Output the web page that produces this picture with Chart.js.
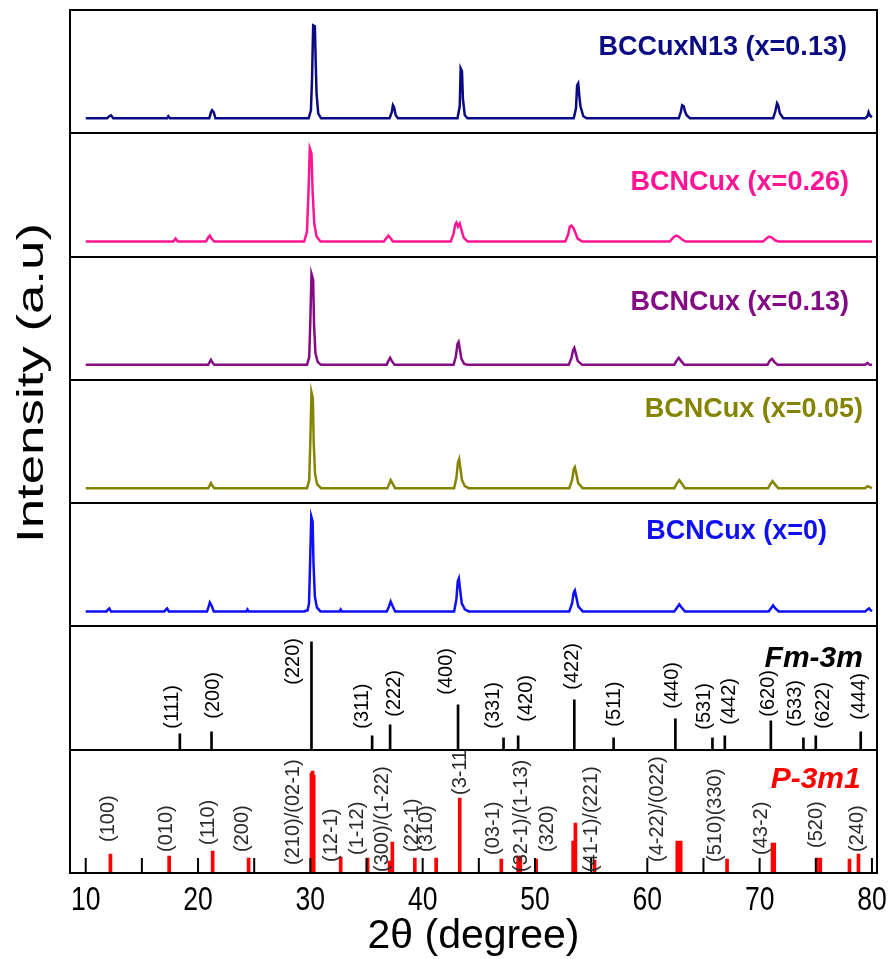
<!DOCTYPE html>
<html>
<head>
<meta charset="utf-8">
<script src="https://cdn.jsdelivr.net/npm/chart.js@4.4.0/dist/chart.umd.min.js"></script>
<style>
  html, body { margin: 0; padding: 0; background: #fff; }
  #wrap { position: relative; width: 893px; height: 959px; }
</style>
</head>
<body>
<div id="wrap"><canvas id="xrdChart" width="893" height="959"></canvas></div>
<script>
// ---- axis ----
const xTicks = [10, 20, 30, 40, 50, 60, 70, 80];
const minorTicks = [10, 15, 20, 25, 30, 35, 40, 45, 50, 55, 60, 65, 70, 75, 80];

// ---- measured patterns: [2theta, intensity above baseline] ----
const scanN13 = [
  [10,0],[11.9,0],[12.1,2],[12.25,3],[12.45,0],
  [17.25,0],[17.35,2],[17.5,0],
  [21.0,0],[21.15,6],[21.25,8],[21.4,6],[21.55,0],
  [29.85,0],[30.05,8],[30.15,40],[30.25,93],[30.4,92],[30.48,55],[30.55,25],[30.7,5],[30.95,0],
  [37.05,0],[37.25,6],[37.35,13],[37.45,11],[37.6,3],[37.8,0],
  [43.1,0],[43.3,12],[43.38,50],[43.5,47],[43.58,20],[43.75,3],[44.0,0],
  [53.45,0],[53.65,10],[53.75,33],[53.85,35],[53.95,22],[54.05,12],[54.3,2],[54.6,0],
  [62.8,0],[63.0,7],[63.1,13],[63.25,12],[63.35,7],[63.5,3],[63.8,0],
  [71.2,0],[71.4,7],[71.55,15],[71.65,13],[71.8,5],[72.1,0],
  [79.4,0],[79.6,2],[79.7,6],[79.8,3],[80,1]
];
const scanX026 = [
  [10,0],[17.8,0],[18.0,3],[18.2,0],
  [20.7,0],[20.9,4],[21.05,6],[21.2,3],[21.45,0],
  [29.45,0],[29.7,10],[29.85,55],[29.95,93],[30.1,88],[30.2,50],[30.35,18],[30.55,5],[30.9,0],
  [36.55,0],[36.8,4],[36.95,6],[37.1,4],[37.35,0],
  [42.5,0],[42.75,8],[42.9,17],[43.0,19],[43.15,15],[43.3,18],[43.45,12],[43.65,4],[44.0,0],
  [52.7,0],[52.95,7],[53.1,15],[53.25,16],[53.4,14],[53.55,10],[53.8,3],[54.2,0],
  [62.0,0],[62.3,4],[62.55,6],[62.8,5],[63.1,2],[63.4,0],
  [70.3,0],[70.6,3],[70.85,5],[71.1,4],[71.4,1],[71.7,0],
  [80,0]
];
const scanX013 = [
  [10,0],[20.9,0],[21.05,3],[21.15,5],[21.3,2],[21.45,0],
  [29.7,0],[29.9,8],[30.0,45],[30.1,91],[30.25,85],[30.33,40],[30.45,12],[30.65,3],[30.95,0],
  [36.8,0],[36.95,4],[37.1,7],[37.25,4],[37.5,0],
  [42.75,0],[42.95,8],[43.1,21],[43.2,23],[43.32,15],[43.45,6],[43.7,1],[44.0,0],
  [53.0,0],[53.25,7],[53.4,15],[53.5,17],[53.62,12],[53.8,4],[54.2,0],
  [62.4,0],[62.6,4],[62.8,7],[63.0,4],[63.3,0],
  [70.7,0],[70.9,4],[71.1,6],[71.3,3],[71.6,0],
  [79.4,0],[79.6,2],[79.8,0],[80,0]
];
const scanX005 = [
  [10,0],[20.9,0],[21.05,3],[21.15,5],[21.3,2],[21.45,0],
  [29.7,0],[29.9,8],[30.0,48],[30.1,96],[30.22,90],[30.3,45],[30.42,14],[30.6,4],[30.95,0],
  [36.85,0],[37.05,5],[37.15,8],[37.3,5],[37.55,0],
  [42.8,0],[43.0,10],[43.15,26],[43.25,29],[43.37,19],[43.5,8],[43.75,2],[44.1,0],
  [53.05,0],[53.3,8],[53.45,19],[53.55,21],[53.67,15],[53.85,5],[54.25,0],
  [62.4,0],[62.65,5],[62.85,8],[63.05,5],[63.35,0],
  [70.75,0],[70.95,4],[71.15,7],[71.35,4],[71.65,0],
  [79.4,0],[79.6,2],[79.8,1],[80,0]
];
const scanX0 = [
  [10,0],[11.85,0],[12.0,2],[12.1,3],[12.25,0],
  [17.0,0],[17.15,2],[17.25,3],[17.4,0],
  [20.8,0],[20.95,5],[21.05,9],[21.2,6],[21.4,0],
  [24.3,0],[24.4,2],[24.5,0],
  [29.5,0],[29.6,1],[29.75,1],[29.88,8],[29.98,50],[30.08,95],[30.2,90],[30.28,48],[30.4,15],[30.58,4],[30.9,0],
  [32.6,0],[32.7,2],[32.8,0],
  [36.8,0],[37.0,5],[37.15,10],[37.3,6],[37.55,0],
  [42.8,0],[43.0,12],[43.12,30],[43.22,33],[43.33,22],[43.48,8],[43.75,2],[44.1,0],
  [53.05,0],[53.3,8],[53.45,19],[53.55,21],[53.67,15],[53.85,5],[54.25,0],
  [62.4,0],[62.65,4],[62.85,7],[63.05,4],[63.35,0],
  [70.8,0],[71.0,3],[71.2,6],[71.4,3],[71.7,0],
  [79.4,0],[79.6,2],[79.75,3],[79.9,1],[80,0]
];

const sampleNames = ['BCCuxN13 (x=0.13)', 'BCNCux (x=0.26)', 'BCNCux (x=0.13)', 'BCNCux (x=0.05)', 'BCNCux (x=0)'];
const sampleColors = ['#0a0a82', '#ff1493', '#850a85', '#848400', '#0f0ff5'];

// ---- reference cards ----
const fm3mHkl = ['(111)','(200)','(220)','(311)','(222)','(400)','(331)','(420)','(422)','(511)','(440)','(531)','(442)','(620)','(533)','(622)','(444)'];
const fm3mPos = [18.38, 21.2, 30.1, 35.5, 37.1, 43.15, 47.2, 48.5, 53.5, 57.0, 62.5, 65.8, 66.9, 71.0, 73.9, 75.0, 79.0];
const fm3mHeight = [16, 18, 108, 14, 25, 45, 12, 14, 50, 12, 31, 12, 14, 29, 12, 14, 18];
const fm3mLabelPos = [17.76, 21.4, 28.46, 34.6, 37.5, 42.1, 46.3, 49.2, 53.3, 57.1, 62.2, 65.1, 67.3, 70.8, 73.2, 75.7, 78.9];
const fm3mLabelY = [21, 31, 65, 21, 33, 55, 21, 28, 60, 23, 41, 20, 25, 33, 23, 21, 30];

const p3m1Pos = [12.2, 17.43, 21.3, 24.5, 30.1, 30.2, 30.3, 32.7, 35.1, 37.05, 37.3, 39.3, 41.2, 43.3,
  47.0, 48.5, 48.7, 50.1, 53.4, 53.6, 55.3, 62.67, 62.97, 67.1, 71.15, 71.3, 75.1, 75.4, 78.0, 78.8];
const p3m1Height = [19, 17, 22, 15, 100, 102, 98, 16, 15, 12, 31, 15, 15, 75,
  14, 17, 17, 14, 32, 50, 13, 32, 32, 14, 30, 30, 15, 15, 14, 19];
const p3m1Hkl = ['(100)','(010)','(110)','(200)','(210)/(02-1)','(12-1)','(1-12)','(300)/(1-22)','(22-1)','(310)',
  '(3-11)','(03-1)','(32-1)/(1-13)','(320)','(41-1)/(221)','(4-22)/(022)','(510)(330)','(43-2)','(520)','(240)'];
const p3m1LabelPos = [12.0, 17.2, 20.9, 24.0, 28.5, 31.9, 34.2, 36.4, 39.1, 40.3, 43.35, 46.3, 48.8, 51.1, 55.0, 60.9, 66.1, 70.2, 75.1, 78.75];
const p3m1LabelY = [31, 21, 28, 21, 8, 11, 18, 1, 21, 21, 78, 18, 1, 21, 1, 11, 11, 18, 25, 21];

// ---- layout bits ----
const FONT = "'Liberation Sans', Arial, sans-serif";
const scanAxes = ['yN13', 'y026', 'y013', 'y005', 'y0'];
const scans = [scanN13, scanX026, scanX013, scanX005, scanX0];
const nameRight = [77.77, 77.95, 77.95, 79.2, 76.0];
const nameBase = [63.3, 51.6, 54.9, 71.2, 72.5];

function panel(min, max) {
  return {
    type: 'linear', position: 'left', stack: 'panels', stackWeight: 1,
    min: min, max: max,
    grid: { display: false, drawTicks: false },
    border: { display: false },
    ticks: { display: false }
  };
}

const datasets = scans.map((s, i) => ({
  type: 'line',
  data: s.map(p => ({ x: p[0], y: p[1] })),
  yAxisID: scanAxes[i],
  borderColor: sampleColors[i],
  borderWidth: 2.5,
  pointRadius: 0,
  tension: 0
}));
datasets.push({
  type: 'bar',
  data: fm3mPos.map((p, i) => ({ x: p, y: fm3mHeight[i] })),
  yAxisID: 'yFm3m',
  backgroundColor: '#000',
  barThickness: 2,
  grouped: false
});
datasets.push({
  type: 'bar',
  data: p3m1Pos.map((p, i) => ({ x: p, y: p3m1Height[i] })),
  yAxisID: 'yP3m1',
  backgroundColor: '#ff0000',
  barThickness: 3,
  grouped: false
});

function rotLabels(ctx, chart, yId, texts, pos, ys, color) {
  const xs = chart.scales.x, ys2 = chart.scales[yId], area = chart.chartArea;
  ctx.save();
  ctx.beginPath();
  ctx.rect(area.left, ys2.top, area.right - area.left, ys2.bottom - ys2.top);
  ctx.clip();
  ctx.fillStyle = color;
  ctx.font = '20px ' + FONT;
  ctx.textAlign = 'left';
  ctx.textBaseline = 'middle';
  texts.forEach((t, i) => {
    ctx.save();
    ctx.translate(xs.getPixelForValue(pos[i]), ys2.getPixelForValue(ys[i]));
    ctx.rotate(-Math.PI / 2);
    ctx.fillText(t, 0, 0);
    ctx.restore();
  });
  ctx.restore();
}

const decor = {
  id: 'decor',
  afterDraw(chart) {
    const ctx = chart.ctx, a = chart.chartArea, xs = chart.scales.x;
    ctx.save();
    ctx.strokeStyle = '#000';
    ctx.lineWidth = 2;
    ctx.strokeRect(a.left, a.top, a.right - a.left, a.bottom - a.top);
    ['y026', 'y013', 'y005', 'y0', 'yFm3m', 'yP3m1'].forEach(id => {
      const t = Math.round(chart.scales[id].top);
      ctx.beginPath(); ctx.moveTo(a.left, t); ctx.lineTo(a.right, t); ctx.stroke();
    });
    minorTicks.forEach(v => {
      const px = xs.getPixelForValue(v);
      ctx.beginPath(); ctx.moveTo(px, a.bottom); ctx.lineTo(px, a.bottom - 15); ctx.stroke();
    });

    // x tick labels, condensed like the original
    ctx.font = '34px ' + FONT;
    ctx.fillStyle = '#000';
    ctx.textAlign = 'center';
    ctx.textBaseline = 'middle';
    xs.ticks.forEach(t => {
      ctx.save();
      ctx.translate(xs.getPixelForValue(t.value), a.bottom + 28);
      ctx.scale(0.78, 1);
      ctx.fillText(String(t.value), 0, 0);
      ctx.restore();
    });

    // sample names
    ctx.font = 'bold 27px ' + FONT;
    ctx.textAlign = 'right';
    ctx.textBaseline = 'alphabetic';
    sampleNames.forEach((n, i) => {
      ctx.fillStyle = sampleColors[i];
      ctx.fillText(n, xs.getPixelForValue(nameRight[i]), chart.scales[scanAxes[i]].getPixelForValue(nameBase[i]));
    });

    // phase names
    ctx.font = 'italic bold 30px ' + FONT;
    ctx.fillStyle = '#000';
    ctx.fillText('Fm-3m', xs.getPixelForValue(79.2), chart.scales.yFm3m.getPixelForValue(83));
    ctx.fillStyle = '#ff0000';
    ctx.fillText('P-3m1', xs.getPixelForValue(79.0), chart.scales.yP3m1.getPixelForValue(85));

    rotLabels(ctx, chart, 'yFm3m', fm3mHkl, fm3mLabelPos, fm3mLabelY, '#000');
    rotLabels(ctx, chart, 'yP3m1', p3m1Hkl, p3m1LabelPos, p3m1LabelY, '#2a2a2a');

    // y title
    ctx.save();
    ctx.translate(33, 383);
    ctx.rotate(-Math.PI / 2);
    ctx.font = '36px ' + FONT;
    ctx.fillStyle = '#000';
    ctx.textAlign = 'center';
    ctx.textBaseline = 'middle';
    const w = ctx.measureText('Intensity (a.u)').width;
    ctx.scale(320 / w, 1);
    ctx.fillText('Intensity (a.u)', 0, 0);
    ctx.restore();
    ctx.restore();
  }
};

new Chart(document.getElementById('xrdChart'), {
  type: 'line',
  data: { datasets: datasets },
  options: {
    responsive: false,
    devicePixelRatio: 1,
    animation: false,
    layout: { padding: { left: 70, right: 16, top: 10, bottom: 2 } },
    plugins: { legend: { display: false }, tooltip: { enabled: false } },
    scales: {
      x: {
        type: 'linear', position: 'bottom', min: 8.6, max: 80.45, offset: false,
        afterBuildTicks: s => { s.ticks = xTicks.map(v => ({ value: v })); },
        afterFit: s => { s.height = 84; },
        grid: { display: false, drawTicks: false, offset: false },
        border: { display: false },
        ticks: { display: false },
        title: { display: true, text: '2θ (degree)', color: '#000', padding: 0,
                 font: { family: FONT, size: 41, lineHeight: 1 } }
      },
      yP3m1: panel(0, 123.3),
      yFm3m: panel(0, 123.3),
      y0: panel(-15, 108.3),
      y005: panel(-15, 108.3),
      y013: panel(-15, 108.3),
      y026: panel(-15, 108.3),
      yN13: panel(-15, 108.3)
    }
  },
  plugins: [decor]
});
</script>
</body>
</html>
